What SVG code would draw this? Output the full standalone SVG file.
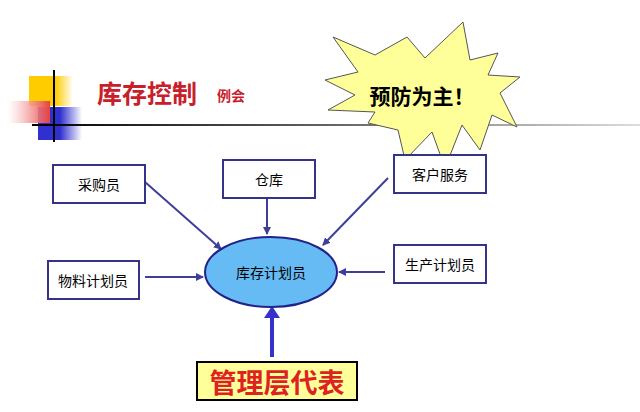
<svg xmlns="http://www.w3.org/2000/svg" width="640" height="412" viewBox="0 0 640 412">
<style>
.box{fill:#fff;stroke:#33338a;stroke-width:2}
.t{font-family:"Noto Sans CJK SC",sans-serif;font-size:14px;fill:#000;text-anchor:middle;dominant-baseline:central}
.c{stroke:#3f3f9a;stroke-width:2;fill:none;marker-end:url(#ah)}
</style>
<defs>
<marker id="ah" markerWidth="8" markerHeight="8" refX="7" refY="4" orient="auto" markerUnits="userSpaceOnUse"><path d="M0,0 L8,4 L0,8 Z" fill="#3f3f9a"/></marker>
<linearGradient id="hl" x1="0" x2="1"><stop offset="0" stop-color="#000"/><stop offset="0.5" stop-color="#666"/><stop offset="1" stop-color="#ddd"/></linearGradient>
<linearGradient id="rg" x1="0" x2="1"><stop offset="0" stop-color="#fff" stop-opacity="0.6"/><stop offset="1" stop-color="#e84040"/></linearGradient>
<linearGradient id="bg" x1="0" x2="1"><stop offset="0.5" stop-color="#3030d0"/><stop offset="1" stop-color="#3030d0" stop-opacity="0"/></linearGradient>
<linearGradient id="yg" x1="0" x2="1"><stop offset="0.6" stop-color="#ffcc00"/><stop offset="1" stop-color="#ffcc00" stop-opacity="0"/></linearGradient>
</defs>
<rect width="640" height="412" fill="#fff"/>
<g id="decor">
<rect x="29" y="76" width="44" height="30" fill="url(#yg)"/>
<rect x="38" y="107" width="44" height="33" fill="url(#bg)"/>
<rect x="8" y="101" width="42" height="22" fill="url(#rg)"/>
<rect x="32" y="124" width="608" height="2" fill="url(#hl)"/>
<line x1="54" y1="70" x2="54" y2="142" stroke="#000" stroke-width="2"/>
</g>
<text x="97" y="103" font-family="Noto Sans CJK SC,sans-serif" font-size="25" font-weight="bold" fill="#c8202a">库存控制</text>
<text x="217" y="101" font-family="Noto Sans CJK SC,sans-serif" font-size="14" font-weight="bold" fill="#c8202a">例会</text>
<g id="star">
<path d="M333,37 L375,55 L407,37 L425,58 L463,22 L470,60 L498,53 L488,75 L520,77 L500,93 L517,127 L492,115 L480,150 L462,125 L445,168 L432,132 L405,160 L398,130 L368,123 L375,112 L328,110 L355,95 L325,80 L358,72 Z" fill="#ffff99" stroke="#555" stroke-width="1"/>
<text x="422" y="95" font-family="Noto Sans CJK SC,sans-serif" font-size="21" font-weight="bold" fill="#000" text-anchor="middle" dominant-baseline="central">预防为主！</text>
</g>
<g id="connectors">
<line class="c" x1="145" y1="182" x2="221" y2="249"/>
<line class="c" x1="267" y1="198" x2="267" y2="234"/>
<line class="c" x1="145" y1="277" x2="203" y2="277"/>
<line class="c" x1="385" y1="272" x2="339" y2="272"/>
<line class="c" x1="388" y1="178" x2="323" y2="245"/>
<path d="M270,357 V318 H264 L272,306 L280,318 H274 V357 Z" fill="#3333cc"/>
</g>
<g id="n1"><rect class="box" x="53" y="165" width="92" height="38"/><text class="t" x="99" y="184">采购员</text></g>
<g id="n2"><rect class="box" x="223" y="160" width="92" height="38"/><text class="t" x="269" y="179">仓库</text></g>
<g id="n3"><rect class="box" x="394" y="155" width="92" height="38"/><text class="t" x="440" y="174">客户服务</text></g>
<g id="n4"><rect class="box" x="48" y="261" width="91" height="38"/><text class="t" x="93" y="280">物料计划员</text></g>
<g id="n5"><rect class="box" x="394" y="245" width="92" height="38"/><text class="t" x="440" y="264">生产计划员</text></g>
<g id="n6"><ellipse cx="271" cy="272" rx="66" ry="35" fill="#66bbf5" stroke="#22228a" stroke-width="2"/><text class="t" x="271" y="272">库存计划员</text></g>
<g id="n7"><rect x="197" y="362" width="160" height="38" fill="#ffff99" stroke="#000" stroke-width="2"/><text x="277" y="381" font-family="Noto Sans CJK SC,sans-serif" font-size="27" font-weight="bold" fill="#d22" text-anchor="middle" dominant-baseline="central">管理层代表</text></g>
</svg>
